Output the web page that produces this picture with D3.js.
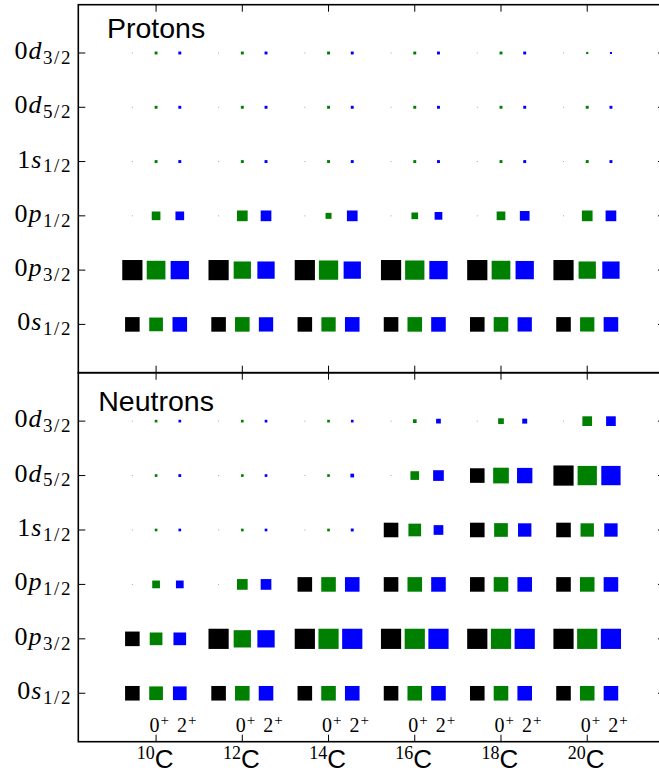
<!DOCTYPE html>
<html><head><meta charset="utf-8">
<script src="https://cdn.jsdelivr.net/npm/d3@7"></script>
<style>body{margin:0;background:#fff}svg{display:block}</style>
</head><body>
<svg id="c" width="659" height="774"></svg>
<script>
// ---- data ----
const isotopes = [10, 12, 14, 16, 18, 20];
// orbitals from bottom (level 0) to top
const orbitalN = ["0", "0", "0", "1", "0", "0"];
const orbitalL = ["s", "p", "p", "s", "d", "d"];
const orbitalJ = ["1/2", "3/2", "1/2", "1/2", "5/2", "3/2"];
const states = ["0", "2"];
const panelTitles = ["Protons", "Neutrons"];

// occupancies per isotope: [0s1/2, 0p3/2, 0p1/2, 1s1/2, 0d5/2, 0d3/2]
const protonsRef = [
  [2, 4, 0, 0, 0, 0], [2, 4, 0, 0, 0, 0], [2, 4, 0, 0, 0, 0],
  [2, 4, 0, 0, 0, 0], [2, 4, 0, 0, 0, 0], [2, 4, 0, 0, 0, 0]];
const protons0 = [
  [1.75, 3.40, 0.64, 0.04, 0.04, 0.04],
  [2.00, 2.88, 1.02, 0.04, 0.04, 0.04],
  [1.92, 3.63, 0.27, 0.04, 0.04, 0.04],
  [2.00, 3.63, 0.35, 0.04, 0.04, 0.04],
  [2.00, 3.40, 0.64, 0.04, 0.04, 0.04],
  [1.92, 2.88, 1.02, 0.04, 0.04, 0.015]];
const protons2 = [
  [2.00, 3.25, 0.64, 0.04, 0.04, 0.04],
  [1.92, 2.88, 1.02, 0.04, 0.04, 0.04],
  [2.00, 2.88, 1.02, 0.04, 0.04, 0.04],
  [2.00, 3.25, 0.49, 0.04, 0.04, 0.04],
  [1.92, 3.25, 0.82, 0.04, 0.04, 0.04],
  [2.00, 2.88, 1.02, 0.04, 0.04, 0.012]];
const neutronsRef = [
  [2, 2, 0, 0, 0, 0], [2, 4, 0, 0, 0, 0], [2, 4, 2, 0, 0, 0],
  [2, 4, 2, 2, 0, 0], [2, 4, 2, 2, 2, 0], [2, 4, 2, 2, 4, 0]];
const neutrons0 = [
  [1.75, 1.48, 0.49, 0.03, 0.03, 0.03],
  [2.00, 2.88, 1.02, 0.03, 0.03, 0.03],
  [2.00, 4.00, 2.00, 0.03, 0.03, 0.03],
  [2.00, 4.00, 2.00, 1.48, 0.64, 0.08],
  [2.00, 4.00, 2.00, 1.75, 2.34, 0.24],
  [2.00, 4.00, 2.00, 1.66, 3.63, 0.82]];
const neutrons2 = [
  [1.75, 1.48, 0.49, 0.03, 0.035, 0.03],
  [2.00, 2.88, 1.02, 0.03, 0.03, 0.03],
  [2.00, 4.00, 2.00, 0.04, 0.08, 0.03],
  [2.00, 4.00, 2.00, 0.82, 1.02, 0.15],
  [2.00, 4.00, 2.00, 1.66, 2.23, 0.17],
  [2.00, 4.00, 2.00, 1.66, 3.63, 0.82]];

// ---- layout ----
const svg = d3.select("#c");
const left = 78.3, right = 665;
const panels = [
  {title: panelTitles[0], top: 4.7, bottom: 372.7, sets: [protonsRef, protons0, protons2], titleLevel: 5.28},
  {title: panelTitles[1], top: 372.7, bottom: 741.7, sets: [neutronsRef, neutrons0, neutrons2], titleLevel: 5.195}
];
const x = d3.scaleLinear().domain([8.196, 21.804]).range([left, right]);
const offsets = [-0.55, 0, 0.55];
const colors = ["#000000", "#008000", "#0000ff"];
const side = d3.scaleSqrt().domain([0, 4]).range([0, 19.2]);
const tickLen = 7;

panels.forEach((p, pi) => {
  const y = d3.scaleLinear().domain([-0.89, 5.89]).range([p.bottom, p.top]);
  const g = svg.append("g");
  const levels = d3.range(orbitalL.length);

  // markers
  p.sets.forEach((set, si) => {
    const pts = [];
    isotopes.forEach((A, ii) => {
      set[ii].forEach((v, li) => pts.push({A, li, v}));
    });
    g.selectAll(null).data(pts).enter().append("rect")
      .attr("x", d => x(d.A + offsets[si]) - (1 + side(d.v)) / 2)
      .attr("y", d => y(d.li) - (1 + side(d.v)) / 2)
      .attr("width", d => 1 + side(d.v))
      .attr("height", d => 1 + side(d.v))
      .attr("fill", colors[si])
      .attr("fill-opacity", d => d.v === 0 ? 0.35 : 1);
  });

  // ticks (inward) on all four sides
  const tk = g.append("g").attr("stroke", "#000").attr("stroke-width", 1);
  levels.forEach(l => {
    tk.append("line").attr("x1", left).attr("x2", left + tickLen).attr("y1", y(l)).attr("y2", y(l));
    tk.append("line").attr("x1", right - tickLen).attr("x2", right).attr("y1", y(l)).attr("y2", y(l));
  });
  isotopes.forEach(A => {
    tk.append("line").attr("x1", x(A)).attr("x2", x(A)).attr("y1", p.top).attr("y2", p.top + tickLen);
    tk.append("line").attr("x1", x(A)).attr("x2", x(A)).attr("y1", p.bottom).attr("y2", p.bottom - tickLen);
  });

  // frame
  g.append("rect").attr("x", left).attr("y", p.top)
    .attr("width", right - left).attr("height", p.bottom - p.top)
    .attr("fill", "none").attr("stroke", "#000").attr("stroke-width", 1.6);

  // y tick labels
  levels.forEach(l => {
    const t = g.append("text")
      .attr("x", 72).attr("y", y(l) + 6)
      .attr("text-anchor", "end")
      .attr("font-family", "'Liberation Serif', 'Times New Roman', serif")
      .attr("font-size", 26);
    t.append("tspan").text(orbitalN[l]);
    t.append("tspan").attr("font-style", "italic").attr("dx", 1).text(orbitalL[l]);
    t.append("tspan").attr("font-size", 19).attr("dy", 4.7).attr("dx", 1.5).attr("letter-spacing", 1.6).text(orbitalJ[l]);
  });

  // panel title
  g.append("text").attr("x", x(10)).attr("y", y(p.titleLevel))
    .attr("text-anchor", "middle")
    .attr("font-family", "'Liberation Sans', Arial, sans-serif")
    .attr("font-size", 28.5).text(p.title);
});

// x tick labels on bottom panel
const bottom = panels[1].bottom;
isotopes.forEach(A => {
  const t = svg.append("text").attr("x", x(A) - 1).attr("y", bottom + 26)
    .attr("text-anchor", "middle");
  t.append("tspan").attr("font-family", "'Liberation Serif', serif").attr("font-size", 18)
    .attr("dy", -9).text(String(A));
  t.append("tspan").attr("font-family", "'Liberation Sans', Arial, sans-serif").attr("font-size", 26)
    .attr("dy", 9).text("C");

  const s = svg.append("text").attr("x", x(A) - 6.5).attr("y", bottom - 10)
    .attr("font-family", "'Liberation Serif', serif").attr("font-size", 20);
  s.append("tspan").text(states[0]);
  s.append("tspan").attr("font-size", 15).attr("dy", -7).attr("dx", 1).text("+");
  s.append("tspan").attr("dy", 7).attr("dx", 8).text(states[1]);
  s.append("tspan").attr("font-size", 15).attr("dy", -7).attr("dx", 1).text("+");
});
</script>
</body></html>
